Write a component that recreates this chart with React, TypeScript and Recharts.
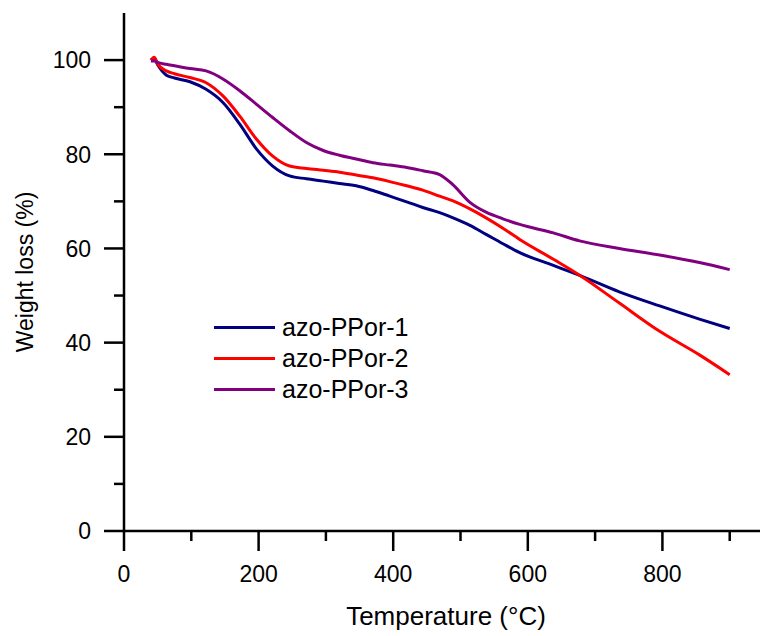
import { LineChart, Line, XAxis, YAxis, Legend } from "recharts";

const temps = [40, 45, 50, 63, 75, 98, 122, 147, 172, 197, 221, 246, 271, 296, 320, 345, 370, 395, 420, 444, 469, 489, 514, 538, 563, 588, 638, 677, 736, 796, 855, 900];

const ppor1 = [100, 100.3, 99, 96.8, 96.2, 95.4, 93.8, 91.0, 86.4, 81.1, 77.5, 75.4, 74.8, 74.3, 73.8, 73.3, 72.3, 71.1, 69.9, 68.7, 67.6, 66.5, 64.9, 63.0, 61.0, 59.1, 56.4, 54.3, 50.8, 47.8, 45.0, 43.0];
const ppor2 = [100, 100.6, 99.2, 97.7, 97.1, 96.3, 95.2, 92.4, 88.1, 83.2, 79.6, 77.5, 77.0, 76.6, 76.2, 75.6, 75.0, 74.2, 73.3, 72.4, 71.1, 70.1, 68.4, 66.5, 64.3, 61.9, 57.7, 54.3, 48.4, 42.4, 37.4, 33.2];
const ppor3 = [99.8, 99.8, 99.5, 99.1, 98.8, 98.2, 97.7, 96.0, 93.5, 90.6, 87.8, 85.0, 82.5, 80.8, 79.8, 79.0, 78.2, 77.7, 77.2, 76.5, 75.7, 73.5, 69.8, 67.7, 66.3, 65.1, 63.3, 61.6, 60.0, 58.6, 57.0, 55.5];

const seriesNames = ["azo-PPor-1", "azo-PPor-2", "azo-PPor-3"];
const seriesColors = ["#000080", "#ff0000", "#800080"];

const xTicks = [0, 100, 200, 300, 400, 500, 600, 700, 800, 900];
const yTicks = [0, 10, 20, 30, 40, 50, 60, 70, 80, 90, 100];

const data = temps.map((t, i) => ({ t, p1: ppor1[i], p2: ppor2[i], p3: ppor3[i] }));

const FONT = "'Liberation Sans', Arial, sans-serif";

function XTick({ x, y, payload }: any) {
  const major = payload.value % 200 === 0;
  return (
    <g>
      <line x1={x} x2={x} y1={y} y2={y + (major ? 20 : 10)} stroke="#000" strokeWidth={2.5} />
      {major && (
        <text x={x} y={y + 51} textAnchor="middle" fontSize={23} fontFamily={FONT} fill="#000">
          {payload.value}
        </text>
      )}
    </g>
  );
}

function YTick({ x, y, payload }: any) {
  const major = payload.value % 20 === 0;
  return (
    <g>
      <line x1={x} x2={x - (major ? 20 : 10)} y1={y} y2={y} stroke="#000" strokeWidth={2.5} />
      {major && (
        <text x={x - 33} y={y} dy="0.36em" textAnchor="end" fontSize={23} fontFamily={FONT} fill="#000">
          {payload.value}
        </text>
      )}
    </g>
  );
}

function LegendBox() {
  return (
    <div style={{ fontFamily: FONT, fontSize: 25, color: "#000" }}>
      {seriesNames.map((name, i) => (
        <div key={name} style={{ display: "flex", alignItems: "center", height: 31 }}>
          <div style={{ width: 61, height: 3, background: seriesColors[i], marginRight: 7 }} />
          <span>{name}</span>
        </div>
      ))}
    </div>
  );
}

export default function App() {
  return (
    <div style={{ position: "absolute", left: 0, top: 0, width: 760, height: 636, background: "#fff" }}>
      <LineChart width={760} height={636} data={data} margin={{ top: 13, right: 0, bottom: 0, left: 0 }}>
        <XAxis
          dataKey="t"
          type="number"
          domain={[0, 945]}
          ticks={xTicks}
          interval={0}
          tickSize={0}
          tickMargin={0}
          tickLine={false}
          tick={<XTick />}
          height={105}
          axisLine={{ stroke: "#000", strokeWidth: 2.5 }}
          label={({ viewBox }: any) => (
            <text
              x={viewBox.x + viewBox.width / 2 + 4}
              y={625}
              textAnchor="middle"
              fontSize={26}
              fontFamily={FONT}
              fill="#000"
            >
              Temperature (°C)
            </text>
          )}
        />
        <XAxis
          xAxisId="top"
          orientation="top"
          dataKey="t"
          type="number"
          domain={[0, 945]}
          height={0}
          tick={false}
          tickLine={false}
          axisLine={{ stroke: "#000", strokeWidth: 2.5 }}
        />
        <YAxis
          type="number"
          domain={[0, 110]}
          ticks={yTicks}
          interval={0}
          width={124}
          tickSize={0}
          tickMargin={0}
          tickLine={false}
          tick={<YTick />}
          axisLine={{ stroke: "#000", strokeWidth: 2.5 }}
          label={({ viewBox }: any) => {
            const cx = viewBox.x + 33;
            const cy = viewBox.y + viewBox.height / 2;
            return (
              <text
                x={cx}
                y={cy}
                transform={`rotate(-90 ${cx} ${cy})`}
                textAnchor="middle"
                fontSize={23}
                fontFamily={FONT}
                fill="#000"
              >
                Weight loss (%)
              </text>
            );
          }}
        />
        <Legend
          layout="vertical"
          align="center"
          verticalAlign="middle"
          content={<LegendBox />}
          wrapperStyle={{ left: 214, top: 312, width: 240 }}
        />
        <Line dataKey="p1" name={seriesNames[0]} stroke={seriesColors[0]} strokeWidth={3} dot={false} type="monotone" isAnimationActive={false} />
        <Line dataKey="p2" name={seriesNames[1]} stroke={seriesColors[1]} strokeWidth={3} dot={false} type="monotone" isAnimationActive={false} />
        <Line dataKey="p3" name={seriesNames[2]} stroke={seriesColors[2]} strokeWidth={3} dot={false} type="monotone" isAnimationActive={false} />
      </LineChart>
    </div>
  );
}
